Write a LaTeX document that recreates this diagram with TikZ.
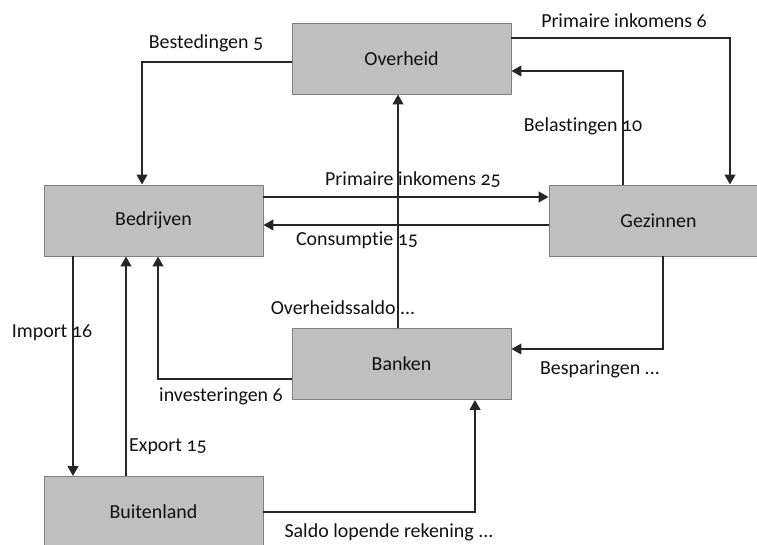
\documentclass[tikz,border=0pt]{standalone}
\usepackage{fontspec}
\setmainfont{Carlito}[Numbers=OldStyle, Ligatures=NoCommon]
\usetikzlibrary{arrows.meta,calc}

\definecolor{boxfill}{HTML}{BFBFBF}
\definecolor{boxline}{HTML}{808080}
\definecolor{flowline}{HTML}{262626}
\definecolor{txt}{HTML}{111111}

\tikzset{
  sector/.style={draw=boxline, fill=boxfill, line width=0.8pt,
    minimum width=6.57cm, minimum height=2.13cm,
    font=\fontsize{17}{19}\selectfont, text=txt},
  flow/.style={draw=flowline, line width=1.9pt,
    -{Triangle[length=0.3cm,width=0.32cm]}},
  lbl/.style={font=\fontsize{17}{19}\selectfont, text=txt, inner sep=0pt},
}

\begin{document}
\begin{tikzpicture}[x=0.03cm, y=-0.03cm]
    \useasboundingbox (0,0) rectangle (757,545);
    % sectoren
    \node[sector] (ovh) at (401.5,58.5) {Overheid};
    \node[sector] (bed) at (153.5,220.5) {Bedrijven};
    \node[sector] (gez) at (658.5,220.5) {Gezinnen};
    \node[sector] (ban) at (401.5,364) {Banken};
    \node[sector] (bui) at (153.5,512) {Buitenland};
    % stromen
    \draw[flow] ($(ovh.west)+(0,3.5)$) -| ($(bed.north)+(-11.5,0)$);
    \draw[flow] ($(ovh.east)+(0,-20.5)$) -| ($(gez.north)+(71.5,0)$);
    \draw[flow] ($(gez.north)+(-35.5,0)$) |- ($(ovh.east)+(0,12.5)$);
    \draw[flow] ($(bed.east)+(0,-23.5)$) -- ($(gez.west)+(0,-23.5)$);
    \draw[flow] ($(gez.west)+(0,4.5)$) -- ($(bed.east)+(0,4.5)$);
    \draw[flow] ($(ban.north)+(-3.5,0)$) -- ($(ovh.south)+(-3.5,0)$);
    \draw[flow] ($(gez.south)+(4.5,0)$) |- ($(ban.east)+(0,-15)$);
    \draw[flow] ($(ban.west)+(0,15)$) -| ($(bed.south)+(4.5,0)$);
    \draw[flow] ($(bed.south)+(-80.5,0)$) -- ($(bui.north)+(-80.5,0)$);
    \draw[flow] ($(bui.north)+(-27.5,0)$) -- ($(bed.south)+(-27.5,0)$);
    \draw[flow] (bui.east) -| ($(ban.south)+(73.5,0)$);
    % labels
    \node[lbl] (lbest) at (206,43) {Bestedingen 5};
    \node[lbl] (lpi6) at (624,21) {Primaire inkomens 6};
    \node[lbl] (lbel) at (583,126) {Belastingen 10};
    \node[lbl] (lpi25) at (413,180) {Primaire inkomens 25};
    \node[lbl] (lcons) at (357,240) {Consumptie 15};
    \node[lbl] (lovs) at (343,308) {Overheidssaldo ...};
    \node[lbl] (lbes) at (600,369) {Besparingen ...};
    \node[lbl] (linv) at (221,396) {investeringen 6};
    \node[lbl] (limp) at (52,333) {Import 16};
    \node[lbl] (lexp) at (168,447) {Export 15};
    \node[lbl] (lsal) at (389,532) {Saldo lopende rekening ...};
\end{tikzpicture}
\end{document}
